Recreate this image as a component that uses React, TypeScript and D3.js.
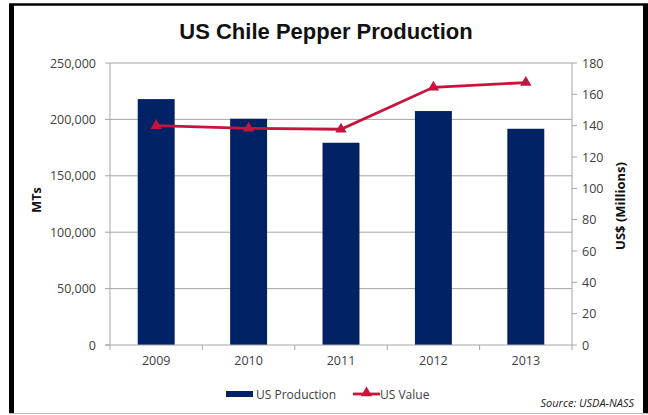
import React from "react";
import * as d3 from "d3";

const years = ["2009", "2010", "2011", "2012", "2013"];
const production = [218000, 200600, 179300, 207400, 191700];
const value = [140, 138.3, 137.7, 164.5, 167.5];
const leftTicks = [0, 50000, 100000, 150000, 200000, 250000];
const rightTicks = [0, 20, 40, 60, 80, 100, 120, 140, 160, 180];

const W = 648;
const H = 415;
const m = { left: 110, right: 572, top: 63, bottom: 345 };
const NAVY = "#022266";
const RED = "#c8143c";
const GRID = "#a6a6a6";
const TXT = "#404040";
const FONT = "'Open Sans', 'Liberation Sans', Arial, sans-serif";

export default function App() {
  const x = d3.scaleBand<string>().domain(years).range([m.left, m.right]).paddingInner(0.6).paddingOuter(0.3);
  const xb = d3.scaleBand<string>().domain(years).range([m.left, m.right]);
  const yL = d3.scaleLinear().domain([0, 250000]).range([m.bottom, m.top]);
  const yR = d3.scaleLinear().domain([0, 180]).range([m.bottom, m.top]);
  const fmt = d3.format(",");
  const line = d3
    .line<number>()
    .x((_, i) => (xb(years[i]) as number) + xb.bandwidth() / 2)
    .y((d) => yR(d));
  const tri = d3.symbol().type(d3.symbolTriangle).size(56);

  return (
    <svg width={W} height={H} style={{ position: "absolute", left: 0, top: 0, background: "#fff" }}>
      <rect x={0} y={0} width={W} height={H} fill="#fff" />
      {/* frame */}
      <line x1={9} x2={648} y1={4.5} y2={4.5} stroke="#000" strokeWidth={2.5} />
      <rect x={9} y={4} width={5} height={410} fill="#000" />
      <rect x={643} y={4} width={5} height={410} fill="#000" />
      <line x1={9} x2={648} y1={413.5} y2={413.5} stroke="#bbb" strokeWidth={1} />

      <text x={326} y={39} textAnchor="middle" fontFamily="'Liberation Sans', Arial, sans-serif" fontWeight="bold" fontSize={22} fill="#111">
        US Chile Pepper Production
      </text>

      {/* gridlines */}
      {leftTicks.slice(1).map((t) => (
        <line key={t} x1={m.left} x2={m.right} y1={yL(t)} y2={yL(t)} stroke={GRID} strokeWidth={1} />
      ))}

      {/* bars */}
      {years.map((yr, i) => (
        <rect key={yr} x={x(yr)} y={yL(production[i])} width={x.bandwidth()} height={m.bottom - yL(production[i])} fill={NAVY} />
      ))}

      {/* axes */}
      <line x1={m.left} x2={m.left} y1={m.top} y2={m.bottom} stroke={GRID} />
      <line x1={m.right} x2={m.right} y1={m.top} y2={m.bottom} stroke={GRID} />
      <line x1={m.left - 5} x2={m.right} y1={m.bottom} y2={m.bottom} stroke={GRID} />
      {leftTicks.map((t) => (
        <g key={t}>
          <line x1={m.left - 5} x2={m.left} y1={yL(t)} y2={yL(t)} stroke={GRID} />
          <text x={m.left - 14} y={yL(t) + 4.5} textAnchor="end" fontFamily={FONT} fontSize={12.5} fill={TXT}>
            {fmt(t)}
          </text>
        </g>
      ))}
      {rightTicks.map((t) => (
        <g key={t}>
          <line x1={m.right} x2={m.right + 5} y1={yR(t)} y2={yR(t)} stroke={GRID} />
          <text x={m.right + 10} y={yR(t) + 4.5} textAnchor="start" fontFamily={FONT} fontSize={12.5} fill={TXT}>
            {t}
          </text>
        </g>
      ))}
      {years.map((yr) => (
        <g key={yr}>
          <line x1={xb(yr)} x2={xb(yr)} y1={m.bottom} y2={m.bottom + 5} stroke={GRID} />
          <text x={(xb(yr) as number) + xb.bandwidth() / 2} y={m.bottom + 20} textAnchor="middle" fontFamily={FONT} fontSize={12.5} fill={TXT}>
            {yr}
          </text>
        </g>
      ))}
      <line x1={m.right} x2={m.right} y1={m.bottom} y2={m.bottom + 5} stroke={GRID} />

      {/* line series */}
      <path d={line(value) || ""} fill="none" stroke={RED} strokeWidth={2.8} />
      {value.map((v, i) => (
        <path key={i} d={tri() || ""} transform={`translate(${(xb(years[i]) as number) + xb.bandwidth() / 2},${yR(v)})`} fill={RED} />
      ))}

      {/* axis titles */}
      <text transform={`translate(41,${(m.top + m.bottom) / 2 - 4}) rotate(-90)`} textAnchor="middle" fontFamily={FONT} fontWeight="bold" fontSize={12.5} fill="#111">
        MTs
      </text>
      <text transform={`translate(625,${(m.top + m.bottom) / 2 + 2}) rotate(-90)`} textAnchor="middle" fontFamily={FONT} fontWeight="bold" fontSize={13} fill="#111">
        US$ (Millions)
      </text>

      {/* legend */}
      <rect x={226} y={391} width={27} height={6} fill={NAVY} />
      <text x={256} y={398.5} fontFamily={FONT} fontSize={12} fill={TXT}>US Production</text>
      <line x1={353} x2={380} y1={394} y2={394} stroke={RED} strokeWidth={2.8} />
      <path d={tri() || ""} transform="translate(366.5,393)" fill={RED} />
      <text x={380} y={398.5} fontFamily={FONT} fontSize={12} fill={TXT}>US Value</text>

      <text x={634} y={407} textAnchor="end" fontFamily={FONT} fontStyle="italic" fontSize={11} fill="#222">
        Source: USDA-NASS
      </text>
    </svg>
  );
}
